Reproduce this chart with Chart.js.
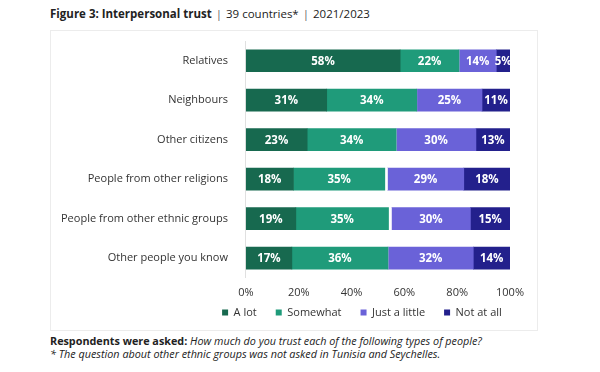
<!DOCTYPE html>
<html>
<head>
<meta charset="utf-8">
<script src="https://cdn.jsdelivr.net/npm/chart.js@4.4.1/dist/chart.umd.min.js"></script>
<style>
    body { margin: 0; width: 600px; height: 372px; background: #fff; overflow: hidden; font-family: "Open Sans", sans-serif; color: #222; position: relative; }
    #title { position: absolute; left: 50px; top: 6px; font-size: 11.5px; white-space: nowrap; }
    #title b { font-weight: 700; }
    #title .sep { color: #666; padding: 0 4px; }
    #box { position: absolute; left: 50px; top: 30px; width: 486px; height: 299px; border: 1px solid #ececec; }
    #note { position: absolute; left: 50px; top: 335px; font-size: 10.8px; line-height: 12.5px; color: #222; white-space: nowrap; }
    #note i { font-style: italic; }
</style>
</head>
<body>
<div id="title"><b>Figure 3: Interpersonal trust</b><span class="sep">|</span>39 countries*<span class="sep">|</span>2021/2023</div>
<div id="box"><canvas id="trustChart" width="486" height="299"></canvas></div>
<div id="note"><b>Respondents were asked:</b> <i>How much do you trust each of the following types of people?</i><br><i>* The question about other ethnic groups was not asked in Tunisia and Seychelles.</i></div>

<script>
// Categories (top to bottom)
const groups = ['Relatives', 'Neighbours', 'Other citizens', 'People from other religions', 'People from other ethnic groups', 'Other people you know'];

// Shares in %
const aLot     = [58.4, 30.6, 23.2, 18.0, 18.9, 17.4];
const somewhat = [22.3, 34.1, 33.7, 34.6, 35.1, 36.4];
const gap      = [0, 0, 0, 1.0, 1.1, 0];   // small blank between the halves
const little   = [14.1, 24.7, 30.2, 28.9, 29.9, 32.3];
const notAtAll = [5.2, 10.6, 12.9, 17.5, 15.0, 13.9];

const xTicks = [0, 20, 40, 60, 80, 100];

// Write the % inside each segment
const barLabels = {
    id: 'barLabels',
    afterDatasetsDraw(chart) {
        const ctx = chart.ctx;
        ctx.save();
        ctx.font = 'bold 11.5px "Open Sans", sans-serif';
        ctx.fillStyle = '#fff';
        ctx.textAlign = 'center';
        ctx.textBaseline = 'middle';
        chart.data.datasets.forEach((ds, i) => {
            if (ds.noLabel) return;
            chart.getDatasetMeta(i).data.forEach((bar, j) => {
                const p = bar.getCenterPoint();
                ctx.fillText(Math.round(ds.data[j]) + '%', p.x, p.y + 1);
            });
        });
        ctx.restore();
    }
};

// Centre the legend under the plot and pull it up closer to the ticks
const legendShift = {
    id: 'legendShift',
    beforeDraw(chart) {
        const lg = chart.legend;
        lg.left = chart.chartArea.left - 72;
        lg.right = chart.chartArea.right + 40;
        lg.top -= 11;
        lg.bottom -= 11;
    }
};

document.addEventListener('DOMContentLoaded', function() {
    const ctx = document.getElementById('trustChart').getContext('2d');

    new Chart(ctx, {
        type: 'bar',
        data: {
            labels: groups,
            datasets: [
                { label: 'A lot', data: aLot, backgroundColor: '#17694f' },
                { label: 'Somewhat', data: somewhat, backgroundColor: '#1f9b7a' },
                { label: '', data: gap, backgroundColor: '#ffffff', noLabel: true },
                { label: 'Just a little', data: little, backgroundColor: '#6a62d8' },
                { label: 'Not at all', data: notAtAll, backgroundColor: '#23208c' }
            ]
        },
        options: {
            indexAxis: 'y',
            responsive: false,
            animation: false,
            datasets: {
                bar: { barThickness: 22, borderWidth: 0 }
            },
            layout: { padding: { top: 10, left: 0, right: 27, bottom: -9 } },
            plugins: {
                legend: {
                    position: 'bottom',
                    labels: {
                        boxWidth: 6,
                        boxHeight: 6,
                        padding: 19,
                        color: '#333',
                        font: { family: '"Open Sans", sans-serif', size: 11 },
                        filter: item => item.text !== ''
                    }
                },
                tooltip: { enabled: false }
            },
            scales: {
                x: {
                    stacked: true,
                    min: 0,
                    max: 100,
                    afterBuildTicks: axis => { axis.ticks = xTicks.map(v => ({ value: v })); },
                    grid: { display: false },
                    border: { display: false },
                    ticks: {
                        color: '#333',
                        padding: 0,
                        maxRotation: 0,
                        font: { family: '"Open Sans", sans-serif', size: 11 },
                        callback: v => v + '%'
                    }
                },
                y: {
                    stacked: true,
                    afterFit: scale => { scale.paddingTop = 0; scale.paddingBottom = 0; },
                    grid: { display: false },
                    border: { display: true, color: '#e0e0e0' },
                    ticks: {
                        color: '#333',
                        padding: 10,
                        font: { family: '"Open Sans", sans-serif', size: 11 }
                    }
                }
            }
        },
        plugins: [barLabels, legendShift]
    });
});
</script>
</body>
</html>
